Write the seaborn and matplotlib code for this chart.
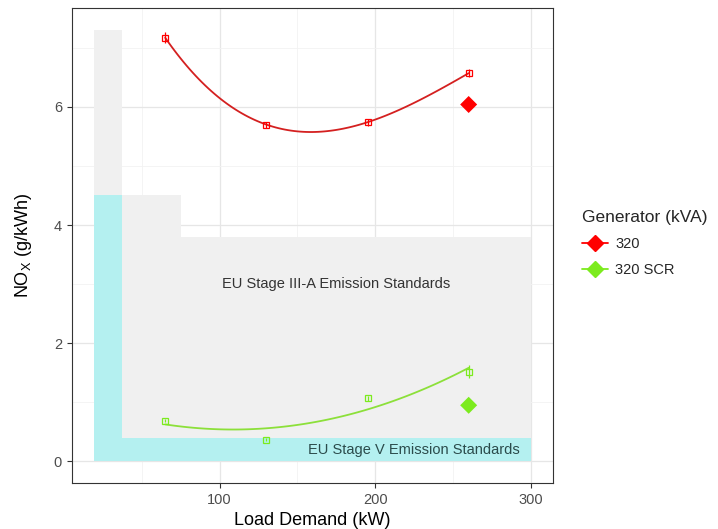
import matplotlib
matplotlib.use("Agg")
import matplotlib.pyplot as plt
import pandas as pd
import seaborn as sns
from matplotlib.lines import Line2D

# measured points (mean + error) per generator
LOAD = [65, 130, 195, 260]
NOX_320 = [7.17, 5.70, 5.74, 6.57]
ERR_320 = [0.09, 0.05, 0.06, 0.07]
NOX_SCR = [0.69, 0.37, 1.07, 1.52]
ERR_SCR = [0.03, 0.03, 0.04, 0.11]

# rated-load reference values (diamonds)
RATED_LOAD = [260, 260]
RATED_NOX = [6.04, 0.95]
RATED_GROUP = ["320", "320 SCR"]

# emission standard limits (left edge, right edge, limit)
STAGE3A_LEFT = [19, 37, 75]
STAGE3A_RIGHT = [37, 75, 300]
STAGE3A_LIMIT = [7.3, 4.5, 3.8]
STAGE5_LEFT = [19, 37]
STAGE5_RIGHT = [37, 300]
STAGE5_LIMIT = [4.5, 0.4]

COLORS = {"320": "#FF0000", "320 SCR": "#7CEB1E"}
LINE_COLORS = {"320": "#D42020", "320 SCR": "#8CE03A"}
FIT_ORDER = {"320": 3, "320 SCR": 2}


def setup_style():
    sns.set_theme(style="white")
    plt.rcParams["font.family"] = ["Liberation Sans", "DejaVu Sans"]
    plt.rcParams["mathtext.fontset"] = "custom"
    plt.rcParams["mathtext.rm"] = "Liberation Sans"


def draw_standards(ax):
    widths = [r - l for l, r in zip(STAGE3A_LEFT, STAGE3A_RIGHT)]
    ax.bar(STAGE3A_LEFT, STAGE3A_LIMIT, width=widths, align="edge",
           color="#F0F0F0", linewidth=0, zorder=1)
    widths = [r - l for l, r in zip(STAGE5_LEFT, STAGE5_RIGHT)]
    ax.bar(STAGE5_LEFT, STAGE5_LIMIT, width=widths, align="edge",
           color="#B4F0F0", linewidth=0, zorder=1.1)
    ax.text(175, 3.0, "EU Stage III-A Emission Standards", ha="center", va="center",
            fontsize=10.5, color="#333333", zorder=2)
    ax.text(225, 0.2, "EU Stage V Emission Standards", ha="center", va="center",
            fontsize=10.5, color="#2B4B4B", zorder=2)


def draw_series(ax, df, name):
    sub = df[df["group"] == name]
    sns.regplot(data=sub, x="load", y="nox", order=FIT_ORDER[name], ci=None, scatter=False,
                ax=ax, truncate=True,
                line_kws={"color": LINE_COLORS[name], "linewidth": 1.3, "zorder": 3})
    ax.errorbar(sub["load"], sub["nox"], yerr=sub["err"], fmt="s", ms=4.2, mfc="none",
                mec=COLORS[name], mew=0.9, ecolor=COLORS[name], elinewidth=0.9, capsize=0,
                zorder=4)


def main():
    setup_style()
    df = pd.DataFrame({
        "load": LOAD * 2,
        "nox": NOX_320 + NOX_SCR,
        "err": ERR_320 + ERR_SCR,
        "group": ["320"] * 4 + ["320 SCR"] * 4,
    })
    rated = pd.DataFrame({"load": RATED_LOAD, "nox": RATED_NOX, "group": RATED_GROUP})

    fig = plt.figure(figsize=(7.18, 5.29), dpi=100)
    ax = fig.add_axes([0.0999, 0.087, 0.670, 0.897])

    draw_standards(ax)
    for name in ["320", "320 SCR"]:
        draw_series(ax, df, name)
    sns.scatterplot(data=rated, x="load", y="nox", hue="group", palette=COLORS, marker="D",
                    s=75, linewidth=0, legend=False, ax=ax, zorder=5)

    ax.set_xlim(4.95, 314.05)
    ax.set_ylim(-0.365, 7.665)
    ax.set_xticks([100, 200, 300])
    ax.set_yticks([0, 2, 4, 6])
    ax.set_xticks([50, 150, 250], minor=True)
    ax.set_yticks([1, 3, 5, 7], minor=True)
    ax.grid(True, which="major", color="#E6E6E6", linewidth=0.9, zorder=0)
    ax.grid(True, which="minor", color="#F2F2F2", linewidth=0.6, zorder=0)
    ax.set_axisbelow(True)
    ax.tick_params(which="major", length=3.5, width=0.8, color="#333333",
                   labelcolor="#4D4D4D", labelsize=10.5, bottom=True, left=True)
    ax.tick_params(which="minor", length=0)
    for s in ax.spines.values():
        s.set_color("#333333")
        s.set_linewidth(0.8)
    ax.set_xlabel("Load Demand (kW)", fontsize=13, color="black")
    ax.set_ylabel("NO$_\\mathrm{X}$ (g/kWh)", fontsize=13, color="black", labelpad=14)

    handles = [
        Line2D([0], [0], color=COLORS[n], marker="D", markersize=8, linewidth=1.3, label=n)
        for n in ["320", "320 SCR"]
    ]
    leg = fig.legend(handles=handles, title="Generator (kVA)", loc="upper left",
                     bbox_to_anchor=(0.792, 0.627), frameon=False, fontsize=10.5,
                     title_fontsize=12.5, handlelength=1.8, handletextpad=0.5,
                     labelspacing=0.8)
    leg._legend_box.align = "left"

    fig.savefig("out.png", dpi=100)


if __name__ == "__main__":
    main()
